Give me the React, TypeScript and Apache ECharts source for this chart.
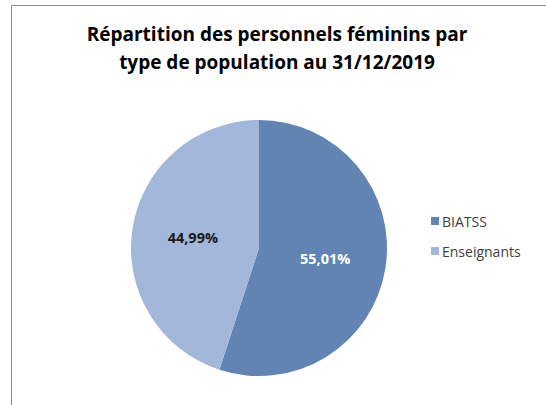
import React, { useEffect, useRef } from "react";
import * as echarts from "echarts";

const titleLines = ["Répartition des personnels féminins par", "type de population au 31/12/2019"];
const categories = ["BIATSS", "Enseignants"];
const values = [55.01, 44.99];
const colors = ["#6184B3", "#A3B7DA"];
const labelColors = ["#FFFFFF", "#1A1A1A"];

export default function App() {
  const ref = useRef<HTMLDivElement>(null);
  useEffect(() => {
    if (!ref.current) return;
    const chart = echarts.init(ref.current, null, { renderer: "svg" });
    const font = "'Open Sans', 'Liberation Sans', sans-serif";
    chart.setOption({
      animation: false,
      backgroundColor: "#FFFFFF",
      title: {
        text: titleLines.join("\n"),
        left: 272,
        top: 15,
        textAlign: "center",
        textStyle: {
          fontFamily: font,
          fontSize: 19,
          fontWeight: "bold",
          color: "#000000",
          lineHeight: 28,
        },
      },
      legend: {
        orient: "vertical",
        left: 426,
        top: 209,
        itemWidth: 8,
        itemHeight: 8,
        itemGap: 16,
        icon: "rect",
        textStyle: { fontFamily: font, fontSize: 14, color: "#404040", padding: [0, 0, 0, -2] },
        data: categories,
      },
      graphic: [
        {
          type: "rect",
          shape: { x: 11.5, y: 5.5, width: 700, height: 600 },
          style: { fill: "none", stroke: "#8C8C8C", lineWidth: 1 },
          silent: true,
        },
      ],
      series: [
        {
          type: "pie",
          center: [259, 248],
          radius: [0, 128],
          startAngle: 90,
          clockwise: true,
          label: {
            show: true,
            position: "inside",
            fontFamily: font,
            fontSize: 14.5,
            fontWeight: "bold",
            formatter: (p: any) => p.value.toFixed(2).replace(".", ",") + "%",
          },
          labelLine: { show: false },
          emphasis: { disabled: true },
          data: categories.map((c, i) => ({
            name: c,
            value: values[i],
            itemStyle: { color: colors[i] },
            label: { color: labelColors[i] },
          })),
        },
      ],
    });
    return () => chart.dispose();
  }, []);
  return <div ref={ref} style={{ position: "fixed", left: 0, top: 0, width: 546, height: 405 }} />;
}
